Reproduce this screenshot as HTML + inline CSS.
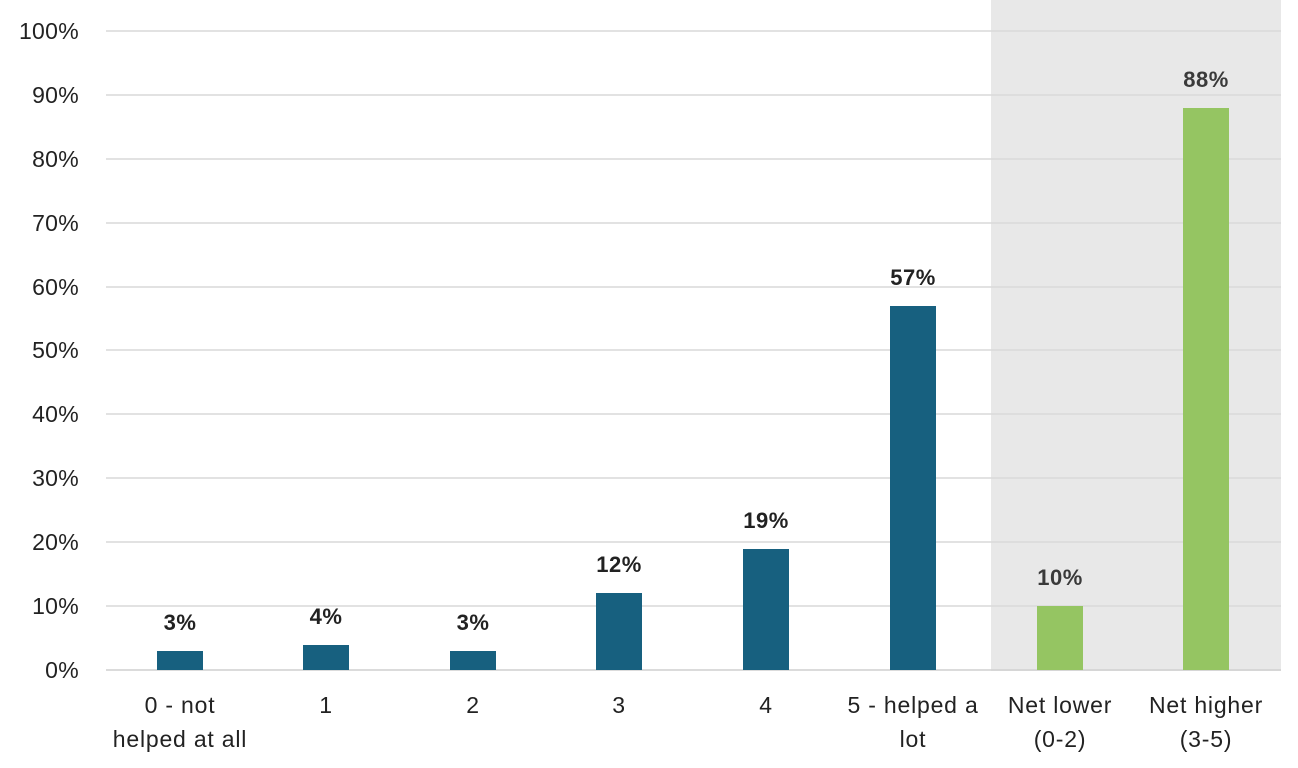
<!DOCTYPE html>
<html><head><meta charset="utf-8"><style>
html,body{margin:0;padding:0;background:#fff;}
svg{display:block;font-family:"Liberation Sans",Arial,sans-serif;}
</style></head><body>
<svg width="1298" height="768" viewBox="0 0 1298 768">
<rect x="991" y="0" width="290" height="671" fill="#e8e8e8"/>
<g stroke="#d9d9d9" stroke-width="1.5">
<line x1="106" x2="1281" y1="31" y2="31"/>
<line x1="106" x2="1281" y1="95" y2="95"/>
<line x1="106" x2="1281" y1="159" y2="159"/>
<line x1="106" x2="1281" y1="223" y2="223"/>
<line x1="106" x2="1281" y1="287" y2="287"/>
<line x1="106" x2="1281" y1="350" y2="350"/>
<line x1="106" x2="1281" y1="414" y2="414"/>
<line x1="106" x2="1281" y1="478" y2="478"/>
<line x1="106" x2="1281" y1="542" y2="542"/>
<line x1="106" x2="1281" y1="606" y2="606"/>
</g>
<line x1="106" x2="1281" y1="670" y2="670" stroke="#cfcfcf" stroke-width="1.5"/>
<g font-size="23" fill="#222" text-anchor="end" letter-spacing="0.3">
<text x="79" y="39">100%</text>
<text x="79" y="103">90%</text>
<text x="79" y="167">80%</text>
<text x="79" y="231">70%</text>
<text x="79" y="295">60%</text>
<text x="79" y="358">50%</text>
<text x="79" y="422">40%</text>
<text x="79" y="486">30%</text>
<text x="79" y="550">20%</text>
<text x="79" y="614">10%</text>
<text x="79" y="678">0%</text>
</g>
<g fill="#17607f">
<rect x="157" y="651" width="46" height="19"/>
<rect x="303" y="645" width="46" height="25"/>
<rect x="450" y="651" width="46" height="19"/>
<rect x="596" y="593" width="46" height="77"/>
<rect x="743" y="549" width="46" height="121"/>
<rect x="890" y="306" width="46" height="364"/>
</g>
<g fill="#95c562">
<rect x="1037" y="606" width="46" height="64"/>
<rect x="1183" y="108" width="46" height="562"/>
</g>
<g font-size="22" font-weight="bold" fill="#222" text-anchor="middle" letter-spacing="0.5">
<text x="180" y="630">3%</text>
<text x="326" y="624">4%</text>
<text x="473" y="630">3%</text>
<text x="619" y="572">12%</text>
<text x="766" y="528">19%</text>
<text x="913" y="285">57%</text>
<text x="1060" y="585" fill="#3a3a3a">10%</text>
<text x="1206" y="87" fill="#3a3a3a">88%</text>
</g>
<g font-size="23" fill="#222" text-anchor="middle" letter-spacing="0.8">
<text x="180" y="713">0 - not</text><text x="180" y="747">helped at all</text>
<text x="326" y="713">1</text>
<text x="473" y="713">2</text>
<text x="619" y="713">3</text>
<text x="766" y="713">4</text>
<text x="913" y="713">5 - helped a</text><text x="913" y="747">lot</text>
<text x="1060" y="713">Net lower</text><text x="1060" y="747">(0-2)</text>
<text x="1206" y="713">Net higher</text><text x="1206" y="747">(3-5)</text>
</g>
</svg>
</body></html>
